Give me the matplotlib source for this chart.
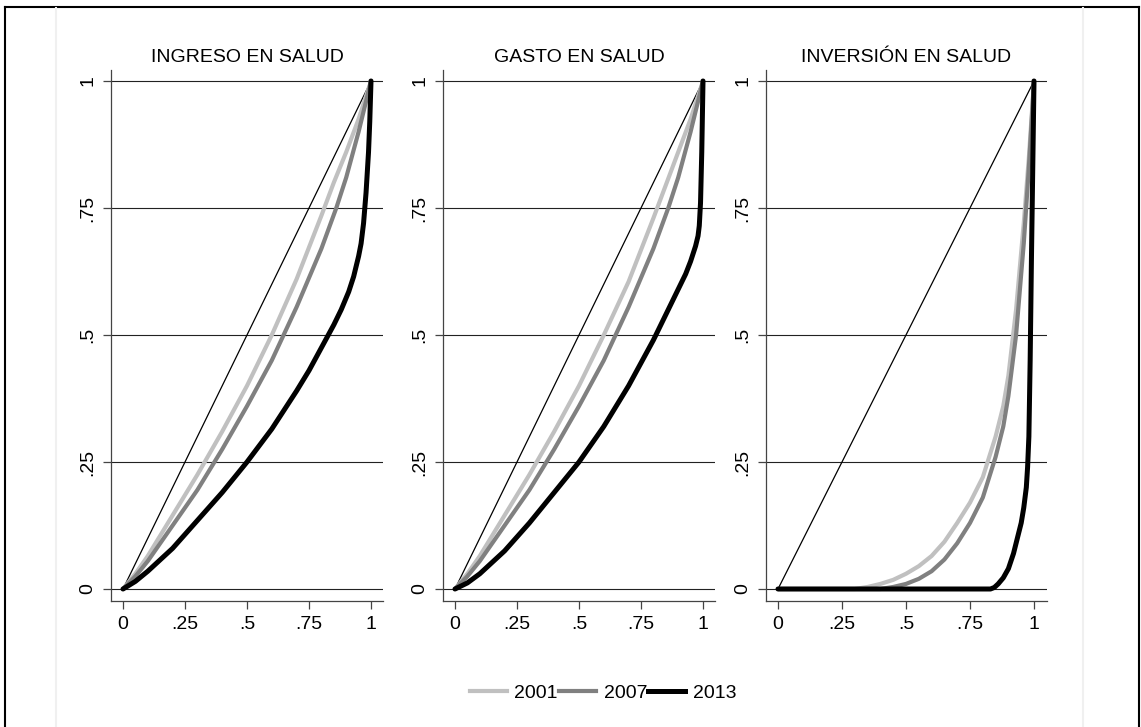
import matplotlib
matplotlib.use("Agg")
import matplotlib.pyplot as plt
from matplotlib.lines import Line2D

plt.rcParams['font.family'] = ['Liberation Sans', 'DejaVu Sans']

titles = ["INGRESO EN SALUD", "GASTO EN SALUD", "INVERSIÓN EN SALUD"]
years = ["2001", "2007", "2013"]
colors = ["#c0c0c0", "#808080", "#000000"]
widths = [3.0, 3.0, 3.6]

# lorenz curves (x = cumulative population share)
ingreso_x = {
    "2001": [0, .05, .1, .2, .3, .4, .5, .6, .7, .8, .85, .9, .95, .98, 1],
    "2007": [0, .05, .1, .2, .3, .4, .5, .6, .7, .8, .86, .9, .95, .98, 1],
    "2013": [0, .05, .1, .2, .3, .4, .5, .6, .7, .75, .8, .85, .88, .91, .93, .95, .96, .97, .98, .99, .995, 1],
}
ingreso_y = {
    "2001": [0, .03, .065, .145, .225, .31, .4, .5, .61, .735, .8, .86, .925, .97, 1],
    "2007": [0, .025, .055, .125, .195, .275, .36, .45, .555, .67, .75, .81, .9, .96, 1],
    "2013": [0, .015, .035, .08, .135, .19, .25, .315, .39, .43, .475, .52, .55, .585, .615, .655, .68, .72, .78, .86, .92, 1],
}
gasto_x = {
    "2001": [0, .05, .1, .2, .3, .4, .5, .6, .7, .8, .85, .9, .95, .98, 1],
    "2007": [0, .05, .1, .2, .3, .4, .5, .6, .7, .8, .86, .9, .95, .98, 1],
    "2013": [0, .05, .1, .2, .3, .4, .5, .6, .7, .75, .8, .85, .88, .91, .93, .95, .96, .97, .98, .985, .99, .995, 1],
}
gasto_y = {
    "2001": [0, .03, .065, .145, .225, .31, .4, .5, .605, .73, .795, .86, .925, .97, 1],
    "2007": [0, .025, .055, .125, .195, .275, .36, .45, .555, .67, .75, .81, .9, .96, 1],
    "2013": [0, .012, .03, .075, .13, .19, .25, .32, .4, .445, .49, .54, .57, .6, .62, .645, .66, .675, .695, .715, .76, .86, 1],
}
inversion_x = {
    "2001": [0, .3, .35, .4, .45, .5, .55, .6, .65, .7, .75, .8, .85, .88, .9, .93, .96, .98, 1],
    "2007": [0, .4, .45, .5, .55, .6, .65, .7, .75, .8, .85, .88, .9, .93, .96, .98, 1],
    "2013": [0, .83, .845, .86, .88, .9, .92, .93, .94, .95, .96, .97, .975, .98, .985, .99, 1],
}
inversion_y = {
    "2001": [0, 0, .004, .01, .018, .03, .045, .065, .093, .13, .17, .22, .3, .36, .42, .55, .72, .85, 1],
    "2007": [0, 0, .004, .01, .02, .035, .058, .09, .13, .18, .26, .32, .38, .5, .68, .83, 1],
    "2013": [0, 0, .003, .01, .022, .04, .07, .09, .11, .13, .16, .2, .24, .3, .45, .65, 1],
}
curves = [(ingreso_x, ingreso_y), (gasto_x, gasto_y), (inversion_x, inversion_y)]

ticks = [0, .25, .5, .75, 1]
ticklabels = ["0", ".25", ".5", ".75", "1"]

W, H = 1141, 727
fig = plt.figure(figsize=(W / 100, H / 100), dpi=100)

# panel boxes in pixels: left, right, x of 0, x of 1
boxes = [(111, 383, 123, 371), (443, 715, 455, 703), (766, 1047, 778, 1034)]
top, bot, y0, y1 = 70, 601, 589, 81

for i, (l, r, p0, p1) in enumerate(boxes):
    ax = fig.add_axes([l / W, 1 - bot / H, (r - l) / W, (bot - top) / H])
    sx = p1 - p0
    ax.set_xlim((l - p0) / sx, (r - p0) / sx)
    sy = y0 - y1
    ax.set_ylim((y0 - bot) / sy, (y0 - top) / sy)
    for t in ticks:
        ax.axhline(t, color="#222222", lw=0.8, zorder=1)
    ax.plot([0, 1], [0, 1], color="black", lw=0.9, zorder=2)
    xs, ys = curves[i]
    for yr, c, w in zip(years, colors, widths):
        ax.plot(xs[yr], ys[yr], color=c, lw=w, solid_capstyle="round",
                solid_joinstyle="round", zorder=3)
    for s in ["top", "right"]:
        ax.spines[s].set_visible(False)
    for s in ["left", "bottom"]:
        ax.spines[s].set_color("#444444")
        ax.spines[s].set_linewidth(0.9)
    ax.set_xticks(ticks)
    ax.set_xticklabels(ticklabels)
    ax.set_yticks(ticks)
    ax.set_yticklabels(ticklabels, rotation=90, va="center")
    ax.tick_params(axis="both", labelsize=14, length=5.5, width=0.9,
                   color="#444444", pad=5)
    ax.set_title(titles[i], fontsize=14, pad=6)

handles = [Line2D([], [], color=c, lw=w) for c, w in zip(colors, widths)]
fig.legend(handles, years, loc="center", bbox_to_anchor=(603 / W, 1 - 693 / H),
           ncol=3, frameon=False, fontsize=14, handlelength=1.9,
           handletextpad=0.4, columnspacing=0.05)

# outer frame and faint region edges
fig.add_artist(Line2D([5 / W, 5 / W], [0, 1 - 7 / H], color="black", lw=1.5))
fig.add_artist(Line2D([1139 / W, 1139 / W], [0, 1 - 7 / H], color="black", lw=1.5))
fig.add_artist(Line2D([5 / W, 1139 / W], [1 - 7 / H, 1 - 7 / H], color="black", lw=1.5))
for xp in [56, 1083]:
    fig.add_artist(Line2D([xp / W, xp / W], [0, 1 - 8 / H], color="#f0f0f0", lw=1.5))

fig.savefig("out.png", dpi=100)
